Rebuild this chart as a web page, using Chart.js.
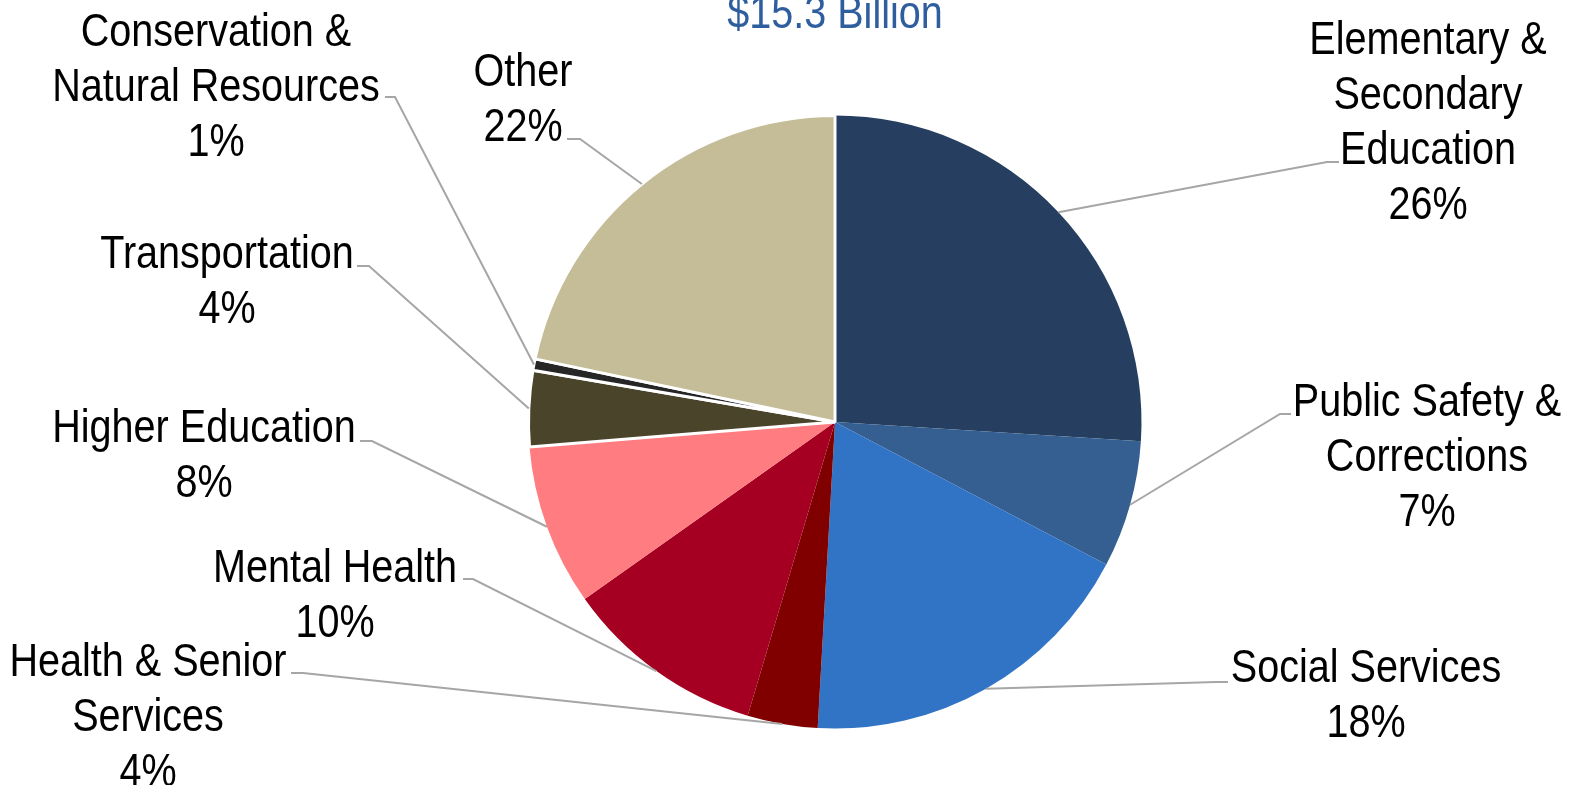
<!DOCTYPE html>
<html>
<head>
<meta charset="utf-8">
<script src="https://cdn.jsdelivr.net/npm/chart.js@4/dist/chart.umd.min.js"></script>
<style>
  html, body { margin: 0; padding: 0; background: #fff; overflow: hidden; }
  #wrap { width: 1569px; height: 785px; position: relative; }
</style>
</head>
<body>
<div id="wrap"><canvas id="budgetPie"></canvas></div>
<script>
// ---------------- data ----------------
const chartTitle = '$15.3 Billion';
const categories = [
  ['Elementary &', 'Secondary', 'Education'],
  ['Public Safety &', 'Corrections'],
  ['Social Services'],
  ['Health & Senior', 'Services'],
  ['Mental Health'],
  ['Higher Education'],
  ['Transportation'],
  ['Conservation &', 'Natural Resources'],
  ['Other']
];
const shares = [26.0, 6.7, 18.2, 3.7, 10.6, 8.5, 4.0, 0.6, 21.7];
const shareLabels = ['26%', '7%', '18%', '4%', '10%', '8%', '4%', '1%', '22%'];

// ---------------- style ----------------
const sliceColors = ['#263f60', '#355f91', '#3173c5', '#800000', '#a50021',
                     '#ff7c80', '#4a442a', '#262626', '#c4bd97'];
const sliceBorders = [0, 0, 0, 0, 0, 0, 3, 3, 3];
const FONT = '"Liberation Sans", Arial, sans-serif';
const FONT_SIZE = 46;
const SQUEEZE = 0.86;   // no narrow face installed, so condense by hand
const LINE_H = 55;
const TEXT_DROP = 3;

// label block centre x, first line centre y, and the label-side end of the leader
const labelPlaces = [
  { x: 1428, y: 38,  lead: [[1339, 162], [1327, 162]] },
  { x: 1427, y: 400, lead: [[1291, 414], [1280, 414]] },
  { x: 1366, y: 666, lead: [[1228, 682], [1216, 682]] },
  { x: 148,  y: 660, lead: [[291, 673], [303, 673]] },
  { x: 335,  y: 566, lead: [[463, 579], [473, 579]] },
  { x: 204,  y: 426, lead: [[360, 441], [372, 441]] },
  { x: 227,  y: 252, lead: [[357, 266], [369, 266]] },
  { x: 216,  y: 30,  lead: [[385, 97], [395, 97]] },
  { x: 523,  y: 70,  lead: [[567, 139], [580, 139]] }
];

function squeezedText(ctx, t, x, y) {
  ctx.save();
  ctx.translate(x, y);
  ctx.scale(SQUEEZE, 1);
  ctx.fillText(t, 0, 0);
  ctx.restore();
}

const outsideLabels = {
  id: 'outsideLabels',
  afterDatasetsDraw(chart) {
    const ctx = chart.ctx;
    const arcs = chart.getDatasetMeta(0).data;
    ctx.save();
    // leader lines
    ctx.strokeStyle = '#a6a6a6';
    ctx.lineWidth = 2;
    arcs.forEach((arc, i) => {
      const p = arc.getProps(['x', 'y', 'startAngle', 'endAngle', 'outerRadius'], true);
      const mid = (p.startAngle + p.endAngle) / 2;
      const ex = p.x + Math.cos(mid) * p.outerRadius;
      const ey = p.y + Math.sin(mid) * p.outerRadius;
      const lead = labelPlaces[i].lead;
      ctx.beginPath();
      ctx.moveTo(lead[0][0], lead[0][1]);
      for (let k = 1; k < lead.length; k++) ctx.lineTo(lead[k][0], lead[k][1]);
      ctx.lineTo(ex, ey);
      ctx.stroke();
    });
    // texts
    ctx.fillStyle = '#000';
    ctx.font = FONT_SIZE + 'px ' + FONT;
    ctx.textAlign = 'center';
    ctx.textBaseline = 'middle';
    categories.forEach((lines, i) => {
      const place = labelPlaces[i];
      const all = lines.concat([shareLabels[i]]);
      all.forEach((t, k) => squeezedText(ctx, t, place.x, place.y + TEXT_DROP + k * LINE_H));
    });
    // title
    ctx.fillStyle = '#2e5e9e';
    ctx.textBaseline = 'alphabetic';
    squeezedText(ctx, chartTitle, 835, 28);
    ctx.restore();
  }
};

new Chart(document.getElementById('budgetPie'), {
  type: 'pie',
  data: {
    labels: categories.map(c => c.join(' ')),
    datasets: [{
      data: shares,
      backgroundColor: sliceColors,
      borderColor: '#ffffff',
      borderWidth: sliceBorders
    }]
  },
  options: {
    responsive: true,
    maintainAspectRatio: false,
    animation: false,
    layout: { padding: { top: 114, bottom: 55, left: 527, right: 426 } },
    plugins: {
      legend: { display: false },
      tooltip: { enabled: false }
    }
  },
  plugins: [outsideLabels]
});
</script>
</body>
</html>
